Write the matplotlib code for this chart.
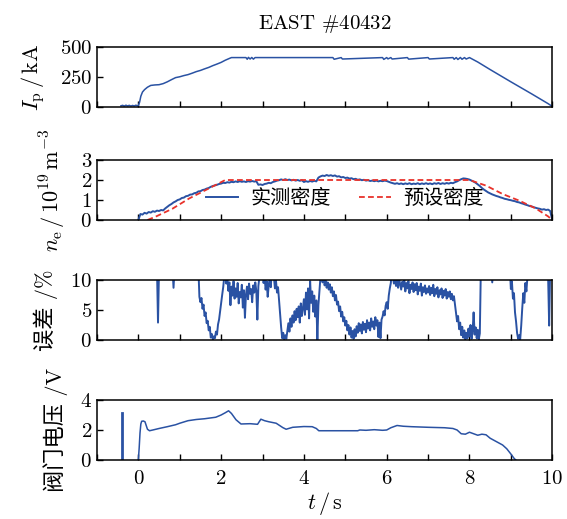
import numpy as np
import matplotlib
matplotlib.use('Agg')
import matplotlib.pyplot as plt
from matplotlib.ticker import MultipleLocator

plt.rcParams['font.family'] = ['cmr10', 'Noto Sans CJK SC']
plt.rcParams['mathtext.fontset'] = 'cm'
plt.rcParams['axes.formatter.use_mathtext'] = True
plt.rcParams['axes.unicode_minus'] = True

BLUE = '#2a52a3'
RED = '#e8322b'

# plasma current, kA
ip_t = [-0.42, -0.38, -0.34, -0.30, -0.26, -0.22, -0.18, -0.14, -0.10, -0.06, -0.02,
        0.00, 0.03, 0.06, 0.10, 0.15, 0.22, 0.30, 0.40, 0.50, 0.60, 0.70, 0.80, 0.90,
        1.00, 1.10, 1.20, 1.30, 1.40, 1.50, 1.60, 1.70, 1.80, 1.90, 2.00, 2.10, 2.20,
        2.25, 2.60, 2.63, 2.66, 2.70, 2.74, 2.78, 2.82, 4.70, 4.73, 4.90, 4.93, 5.90,
        5.93, 6.00, 6.03, 6.10, 6.13, 6.50, 6.53, 7.00, 7.03, 7.60, 7.63, 7.68, 7.72,
        7.78, 7.82, 7.88, 7.92, 8.00, 8.20, 8.50, 9.00, 9.50, 9.90, 10.00]
ip_v = [10, 14, 8, 15, 9, 14, 8, 13, 9, 15, 10,
        12, 40, 90, 125, 145, 165, 180, 184, 186, 195, 210, 228, 245,
        252, 262, 270, 282, 295, 305, 318, 330, 345, 358, 372, 390, 405,
        412, 412, 398, 414, 400, 413, 399, 412, 412, 398, 412, 400, 412,
        397, 412, 401, 412, 400, 412, 399, 412, 400, 412, 398, 412, 396,
        413, 398, 412, 400, 412, 375, 312, 210, 110, 28, 5]

# measured density, 1e19 m^-3, sampled every 0.05 s from 0 to 10 s
dens_meas = [
    0.00, 0.30, 0.27, 0.36, 0.32, 0.40, 0.37, 0.44, 0.41, 0.47,
    0.45, 0.50, 0.48, 0.58, 0.66, 0.74, 0.80, 0.88, 0.93, 1.00,
    1.03, 1.10, 1.12, 1.19, 1.21, 1.27, 1.28, 1.34, 1.36, 1.43,
    1.44, 1.50, 1.52, 1.57, 1.60, 1.66, 1.70, 1.73, 1.76, 1.80,
    1.82, 1.86, 1.85, 1.89, 1.87, 1.91, 1.89, 1.93, 1.90, 1.94,
    1.91, 1.93, 1.90, 1.94, 1.92, 1.95, 1.92, 1.94, 1.76, 1.78,
    1.75, 1.80, 1.82, 1.86, 1.84, 1.90, 1.93, 1.97, 1.99, 2.03,
    2.00, 2.04, 2.00, 2.02, 1.98, 2.01, 1.97, 2.00, 1.96, 1.99,
    1.90, 1.94, 1.91, 1.95, 1.92, 1.96, 1.93, 2.12, 2.18, 2.22,
    2.20, 2.25, 2.21, 2.24, 2.20, 2.23, 2.17, 2.19, 2.13, 2.15,
    2.10, 2.12, 2.07, 2.09, 2.04, 2.06, 2.01, 2.03, 1.99, 2.01,
    1.97, 1.99, 1.95, 1.97, 1.94, 1.97, 1.93, 1.96, 1.94, 1.97,
    1.95, 1.91, 1.87, 1.84, 1.81, 1.84, 1.80, 1.83, 1.79, 1.83,
    1.80, 1.84, 1.79, 1.82, 1.80, 1.84, 1.79, 1.83, 1.80, 1.84,
    1.80, 1.83, 1.79, 1.84, 1.81, 1.85, 1.80, 1.84, 1.81, 1.85,
    1.82, 1.86, 1.84, 1.89, 1.93, 1.99, 2.04, 2.08, 2.07, 2.05,
    2.02, 1.97, 1.92, 1.86, 1.78, 1.70, 1.60, 1.52, 1.45, 1.38,
    1.33, 1.28, 1.24, 1.20, 1.17, 1.13, 1.10, 1.06, 1.04, 1.01,
    0.99, 0.96, 0.94, 0.90, 0.88, 0.84, 0.81, 0.77, 0.74, 0.70,
    0.68, 0.64, 0.61, 0.58, 0.56, 0.52, 0.54, 0.50, 0.52, 0.45,
    0.00]

# preset density
dens_set_t = [0.22, 0.42, 0.82, 1.23, 1.63, 2.10, 8.00, 8.40, 8.80, 9.20, 9.60, 9.90, 10.00]
dens_set_v = [0.00, 0.17, 0.56, 1.08, 1.50, 2.00, 2.00, 1.72, 1.30, 0.97, 0.58, 0.18, 0.00]

# relative error, %, sampled every 0.025 s from 0 to 10 s (values above 10 are off-scale)
err = [
    12, 12, 12, 12, 12, 12, 12, 12, 12, 12, 12, 12, 12, 12, 12, 12, 12, 12, 12, 2.9,
    12, 12, 12, 12, 12, 12, 12, 12, 12, 12, 12, 12, 12, 12, 8.7, 12, 12, 12, 12, 12,
    12, 12, 12, 12, 12, 12, 12, 12, 12, 12, 12, 12, 12, 12, 12, 12, 12, 12, 12, 7.2,
    6.3, 7.0, 5.2, 5.9, 4.0, 4.6, 2.8, 3.2, 1.6, 2.2, 0.4, 1.0, 0.1, 0.6, 0.3, 1.4, 0.9, 2.6, 3.4, 4.8,
    6.2, 7.5, 8.8, 10.5, 12, 9.4, 10.5, 8.2, 9.6, 5.8, 8.9, 7.4, 9.8, 6.9, 8.6, 7.2, 9.5, 6.1, 8.0, 7.1,
    9.2, 5.4, 8.3, 3.7, 7.6, 8.9, 6.8, 9.4, 7.7, 8.5, 6.3, 9.1, 7.9, 9.6, 8.2, 3.4, 9.0, 10.5, 12, 12,
    12, 9.5, 10.5, 8.4, 9.8, 7.2, 9.1, 10.5, 8.8, 12, 12, 10.5, 8.6, 9.9, 7.9, 8.8, 6.5, 4.2, 2.1, 0.3,
    1.2, 0.1, 0.8, 0.2, 1.5, 2.8, 1.4, 3.6, 2.2, 4.1, 2.9, 4.8, 3.3, 5.2, 3.8, 5.6, 2.9, 6.1, 4.0, 5.3,
    6.8, 4.2, 7.9, 5.1, 8.6, 3.6, 9.8, 6.2, 8.1, 4.7, 7.4, 3.9, 6.6, 0.0, 5.8, 8.2, 10.5, 12, 9.6, 10.5,
    9.1, 9.9, 8.7, 9.6, 8.4, 9.3, 7.9, 8.8, 7.3, 8.1, 6.6, 7.5, 5.9, 6.4, 4.8, 5.6, 3.9, 4.7, 3.1, 3.8,
    2.4, 3.2, 1.6, 2.5, 0.9, 2.1, 0.4, 1.5, 0.2, 1.8, 0.6, 2.3, 1.2, 2.8, 1.5, 2.6, 1.1, 3.0, 1.7, 2.7,
    1.3, 3.3, 1.9, 2.9, 1.6, 3.6, 2.2, 3.1, 1.8, 3.8, 2.4, 3.3, 0.5, 2.9, 0.3, 3.4, 3.9, 4.8, 4.1, 5.7,
    6.3, 5.2, 7.4, 8.6, 9.5, 12, 10.5, 9.4, 10.5, 9.0, 9.9, 8.7, 10.2, 9.3, 8.4, 9.7, 8.9, 10.1, 8.1, 9.5,
    8.6, 9.8, 7.8, 9.2, 8.5, 9.6, 8.0, 9.3, 8.3, 9.5, 7.6, 8.9, 8.2, 9.4, 7.4, 8.8, 8.0, 9.1, 7.7, 8.6,
    7.9, 9.0, 7.5, 8.7, 7.8, 9.2, 7.3, 8.5, 7.7, 8.8, 7.1, 8.3, 7.6, 8.6, 7.0, 8.2, 7.4, 8.5, 6.9, 8.0,
    7.2, 8.1, 6.8, 7.7, 6.6, 7.3, 5.9, 4.6, 3.1, 4.0, 1.8, 2.9, 0.8, 2.2, 0.4, 1.6, 0.1, 1.2, 0.3, 1.9,
    0.6, 2.5, 0.2, 1.4, 4.6, 0.9, 2.1, 0.3, 1.7, 0.1, 1.1, 12, 12, 12, 12, 12, 12, 12, 12, 12,
    12, 12, 9.6, 12, 12, 12, 12, 12, 12, 12, 12, 12, 12, 12, 12, 12, 12, 12, 12, 12,
    8.5, 9.8, 6.9, 7.8, 4.6, 3.1, 1.2, 0.2, 0.8, 0.1, 2.4, 5.3, 7.8, 6.2, 9.5, 8.1, 10.5, 12, 12, 12,
    12, 12, 12, 12, 12, 12, 12, 12, 12, 12, 12, 12, 12, 12, 12, 12, 10.5, 2.4, 12, 12,
    12]

# valve voltage, V
volt_t = [0.00, 0.02, 0.04, 0.06, 0.08, 0.12, 0.16, 0.19, 0.22, 0.27, 0.35, 0.50, 0.70,
          0.90, 1.00, 1.20, 1.40, 1.60, 1.87, 2.00, 2.10, 2.18, 2.25, 2.36, 2.48, 2.70,
          2.88, 2.96, 3.05, 3.15, 3.33, 3.49, 3.57, 3.73, 4.00, 4.20, 4.30, 4.36, 5.30,
          5.35, 5.50, 5.70, 5.90, 6.00, 6.10, 6.25, 6.40, 6.60, 7.00, 7.40, 7.60, 7.70,
          7.80, 7.90, 8.00, 8.10, 8.20, 8.30, 8.40, 8.50, 8.60, 8.70, 8.80, 8.90, 9.00,
          9.08, 9.12]
volt_v = [0.00, 0.80, 1.80, 2.40, 2.58, 2.60, 2.55, 2.30, 2.05, 1.95, 2.00, 2.10, 2.22,
          2.35, 2.45, 2.62, 2.70, 2.75, 2.85, 3.00, 3.15, 3.28, 3.10, 2.68, 2.40, 2.42,
          2.38, 2.72, 2.62, 2.55, 2.45, 2.16, 2.05, 2.18, 2.23, 2.22, 2.10, 1.95, 1.95,
          2.00, 1.98, 2.02, 1.98, 2.00, 2.15, 2.30, 2.25, 2.22, 2.18, 2.15, 2.10, 2.00,
          1.75, 1.72, 1.85, 1.75, 1.65, 1.72, 1.68, 1.45, 1.30, 1.15, 1.00, 0.75, 0.40,
          0.10, 0.00]
volt_spike_t = -0.39
volt_spike_v = 3.15

dens_t = np.arange(len(dens_meas)) * 0.05
err_t = np.arange(len(err)) * 0.025

fig = plt.figure(figsize=(5.67, 5.19), dpi=100)
left, width, height = 0.171, 0.803, 0.1156
ax1 = fig.add_axes([left, 0.7938, width, height])
ax2 = fig.add_axes([left, 0.5761, width, height])
ax3 = fig.add_axes([left, 0.3449, width, height])
ax4 = fig.add_axes([left, 0.1137, width, height])

ax1.plot(ip_t, ip_v, color=BLUE, lw=1.1)
ax2.plot(dens_t, dens_meas, color=BLUE, lw=1.4, label='实测密度')
ax2.plot(dens_set_t, dens_set_v, color=RED, lw=1.3, ls=(0, (3.2, 1.8)), label='预设密度')
ax3.plot(err_t, err, color=BLUE, lw=1.4)
ax4.plot(volt_t, volt_v, color=BLUE, lw=1.1)
ax4.plot([volt_spike_t, volt_spike_t], [0, volt_spike_v], color=BLUE, lw=2.0)

ax1.set_ylim(0, 500)
ax1.yaxis.set_major_locator(MultipleLocator(250))
ax2.set_ylim(0, 3)
ax2.yaxis.set_major_locator(MultipleLocator(1))
ax3.set_ylim(0, 10)
ax3.yaxis.set_major_locator(MultipleLocator(5))
ax4.set_ylim(0, 4)
ax4.yaxis.set_major_locator(MultipleLocator(2))

for ax in (ax1, ax2, ax3, ax4):
    ax.set_xlim(-1, 10)
    ax.xaxis.set_major_locator(MultipleLocator(2))
    ax.xaxis.set_minor_locator(MultipleLocator(1))
    ax.tick_params(which='both', direction='in', length=4, width=1.0,
                   labelsize=15, top=False, right=False)
    ax.tick_params(axis='x', pad=7)
    for sp in ax.spines.values():
        sp.set_linewidth(1.1)
    if ax is not ax4:
        ax.tick_params(labelbottom=False)

ax1.set_title(r'EAST $\#$40432', fontsize=15, pad=13)
ax1.set_ylabel(r'$I_{\rm p}\,/\,$kA', fontsize=16, labelpad=9)
ax2.set_ylabel(r'$n_{\rm e}\,/\,10^{19}\,{\rm m}^{-3}$', fontsize=16, labelpad=9)
ax3.set_ylabel('误差 /%', fontsize=16, labelpad=9)
ax4.set_ylabel('阀门电压 /V', fontsize=16, labelpad=9)
ax4.set_xlabel(r'$t\,/\,$s', fontsize=16, labelpad=2)

ax2.legend(loc='center', bbox_to_anchor=(0.545, 0.36), ncol=2, frameon=False,
           prop={'family': 'Noto Sans CJK SC', 'size': 14.5}, handlelength=1.6,
           columnspacing=1.4, handletextpad=0.6, borderpad=0)

fig.savefig('out.png', dpi=100)
